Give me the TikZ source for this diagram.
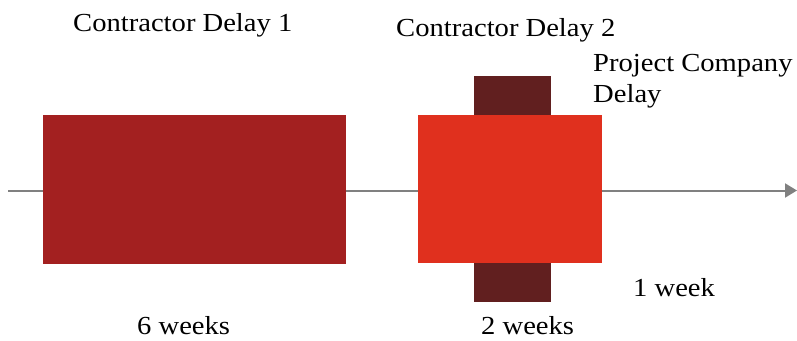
\documentclass[tikz,border=0pt]{standalone}
\usepackage{fontspec}
\setmainfont{Liberation Serif}[FakeStretch=1.1]
\usetikzlibrary{arrows.meta}
\definecolor{darkred}{HTML}{A32020}
\definecolor{brightred}{HTML}{E0301E}
\definecolor{brown}{HTML}{611F1F}
\definecolor{linegray}{HTML}{808080}
\tikzset{
  lbl/.style={anchor=base west, inner sep=0pt, font=\fontsize{26}{31.5}\selectfont, text=black},
  blk/.style={draw=none, inner sep=0pt, anchor=north west},
}
\begin{document}
\begin{tikzpicture}[x=1pt,y=-1pt]
\useasboundingbox (0,0) rectangle (797,340);
\coordinate (start) at (8,190.5);
\coordinate (end) at (797,190.5);
\draw[linegray, line width=2pt, -{Triangle[length=12pt,width=14pt]}] (start) -- (end);
\node[blk, fill=darkred, minimum width=303pt, minimum height=149pt] (b1) at (43,115) {};
\node[blk, fill=brown, minimum width=77pt, minimum height=226pt] (b2) at (474,76) {};
\node[blk, fill=brightred, minimum width=184pt, minimum height=148pt] (b3) at (418,115) {};
\node[lbl] (t1) at (73,31.7) {Contractor Delay 1};
\node[lbl] (t2) at (396,36) {Contractor Delay 2};
\node[lbl, align=left, anchor=north west] (t3) at (593,54) {Project Company\\Delay};
\node[lbl] (t4) at (137,334.5) {6 weeks};
\node[lbl] (t5) at (481,334.5) {2 weeks};
\node[lbl] (t6) at (633,296.7) {1 week};
\end{tikzpicture}
\end{document}
